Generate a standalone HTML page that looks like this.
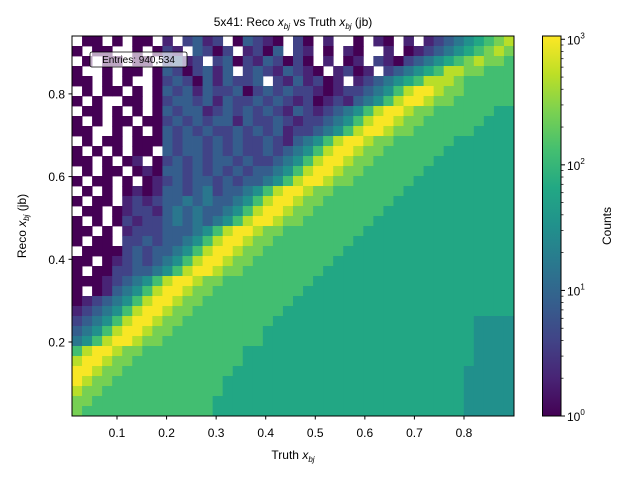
<!DOCTYPE html>
<html>
<head>
<meta charset="utf-8">
<style>
  html, body { margin: 0; padding: 0; background: #ffffff; }
  svg { display: block; font-family: "Liberation Sans", "DejaVu Sans", sans-serif; }
</style>
</head>
<body>
<svg id="chart" width="640" height="480" viewBox="0 0 640 480" xmlns="http://www.w3.org/2000/svg">
  <rect x="0" y="0" width="640" height="480" fill="#ffffff"/>
  <text x="293" y="26" text-anchor="middle" font-size="12" fill="#000">5x41: Reco <tspan font-style="italic">x</tspan><tspan font-style="italic" font-size="8" dy="3">bj</tspan><tspan dy="-3"> vs Truth </tspan><tspan font-style="italic">x</tspan><tspan font-style="italic" font-size="8" dy="3">bj</tspan><tspan dy="-3"> (jb)</tspan></text>
  <g id="cells"></g>
  <rect x="72" y="36" width="442" height="380" fill="none" stroke="#000" stroke-width="1"/>
  <g id="xticks"></g>
  <g id="yticks"></g>
  <text x="293" y="459" text-anchor="middle" font-size="12" fill="#000">Truth <tspan font-style="italic">x</tspan><tspan font-style="italic" font-size="8" dy="3">bj</tspan></text>
  <text transform="translate(26,226) rotate(-90)" text-anchor="middle" font-size="12" fill="#000">Reco <tspan font-style="italic">x</tspan><tspan font-style="italic" font-size="8" dy="3">bj</tspan><tspan dy="-3"> (jb)</tspan></text>
  <g>
    <rect x="90" y="52" width="97" height="15" rx="2" fill="#ffffff" fill-opacity="0.65" stroke="#000" stroke-width="0.8"/>
    <text x="138.5" y="63" text-anchor="middle" font-size="10" fill="#000">Entries: 940,534</text>
  </g>
  <defs>
    <linearGradient id="vgrad" x1="0" y1="1" x2="0" y2="0"></linearGradient>
  </defs>
  <rect x="542.5" y="36" width="18.5" height="380" fill="url(#vgrad)" stroke="#000" stroke-width="1"/>
  <g id="cbticks"></g>
  <text transform="translate(611,226) rotate(-90)" text-anchor="middle" font-size="12" fill="#000">Counts</text>
</svg>
<script>
// ---- data: log10(counts) level codes per row (top row first), 44 truth-x bins x 38 reco-x bins
var levelLog = [0, 0.3, 0.6, 0.9, 1.2, 1.5, 1.8, 2.1, 2.4, 2.7, 3.0];
var rowCodes = [
  ".00.0.00." + "1.2312.03210.2" + "0.1..0.10.1.12" + "3456789",
  "0.00..0.0" + "21.3202.1203.2" + "1.0.10..1.012" + "34567898",
  ".0.00.00." + "2312.230213202" + "0.1.01.2102" + "3456789887",
  "0..0.00.0" + "3202313.232132" + "10.1201.2" + "345679988777",
  "00.0.0..0" + "2320313223.213" + "1201.12" + "34567999877777",
  ".0.00.0.0" + "32313223023232" + "210122" + "34579AA98877777",
  "0.0..00.0" + "23323132232321" + "20121" + "34579AA988777777",
  ".00.0.0.0" + "32331232323213" + "212" + "34579AA98877777766",
  "0.0.00.00" + "23232331322321" + "22" + "34579AA988777777666",
  "00..0.0.0" + "32323223232312" + "2" + "34579AA9887777776666",
  ".0.00.000" + "3233232322321" + "34579AA988777777666666",
  "0.0.0.00." + "323323232232" + "34579AA9887777776666666",
  "00.0.01.0" + "23232332322" + "34579AA98877777766666666",
  ".0.00.010" + "3323232323" + "34579AA988777777666666666",
  "0.00.0.01" + "232332323" + "34579AA9887777776666666666",
  ".0.0.0101" + "3323423" + "34579AA988777777766666666666",
  "0.00.1212" + "334343" + "34579AA9887777777666666666666",
  ".00.01221" + "34343" + "34579AA98877777776666666666666",
  "0.0.02122" + "3434" + "34579AA988777777766666666666666",
  "00.0.1222" + "33" + "34579AA98877777777666666666666666",
  "0.00.2232" + "3" + "34579AA988777777776666666666666666",
  ".00002323" + "34579AA9887777777766666666666666666",
  "00.01232" + "34579AA98877777777666666666666666666",
  "0.00223" + "34579AA988777777776666666666666666666",
  "00012" + "34579AA98877777777766666666666666666666",
  "0.01" + "34579AA988777777777666666666666666666666",
  "012" + "34579AA9887777777776666666666666666666666",
  "12" + "34579AA98877777777766666666666666666666666",
  "2" + "34579AA988777" + "777777" + "6666666666" + "6666666666" + "5555",
  "34579AA988777" + "777777" + "6666666666" + "6666666666" + "6" + "5555",
  "4579AA988777" + "7777777" + "6666666666" + "6666666666" + "6" + "5555",
  "79AA988777" + "7777777" + "6666666666" + "6666666666" + "666" + "5555",
  "9AA988777" + "77777777" + "6666666666" + "6666666666" + "666" + "5555",
  "AA988777" + "77777777" + "6666666666" + "6666666666" + "666" + "55555",
  "A988777" + "77777777" + "6666666666" + "6666666666" + "6666" + "55555",
  "988777" + "777777777" + "6666666666" + "6666666666" + "6666" + "55555",
  "88777" + "777777777" + "6666666666" + "6666666666" + "66666" + "55555",
  "8777" + "7777777777" + "6666666666" + "6666666666" + "66666" + "55555"
];
var xTickValues = [0.1, 0.2, 0.3, 0.4, 0.5, 0.6, 0.7, 0.8];
var xTickLabels = ["0.1", "0.2", "0.3", "0.4", "0.5", "0.6", "0.7", "0.8"];
var yTickValues = [0.2, 0.4, 0.6, 0.8];
var yTickLabels = ["0.2", "0.4", "0.6", "0.8"];
var cbTickExps = [0, 1, 2, 3];
var xDomain = [0.0092, 0.9009];
var yDomain = [0.021, 0.940];
var logMax = 3.026;

// ---- axis functions
var PX0 = 72, PX1 = 514, PY0 = 416, PY1 = 36;
function xScale(v) { return PX0 + (v - xDomain[0]) / (xDomain[1] - xDomain[0]) * (PX1 - PX0); }
function yScale(v) { return PY0 - (v - yDomain[0]) / (yDomain[1] - yDomain[0]) * (PY0 - PY1); }
function cbScale(l) { return 416 - l / logMax * 380; }

var stops = ["#440154","#482475","#414487","#355f8d","#2a788e","#21918c","#22a884","#44bf70","#7ad151","#bddf26","#fde725"];
function hex(h) { return [parseInt(h.substr(1,2),16), parseInt(h.substr(3,2),16), parseInt(h.substr(5,2),16)]; }
function viridis(t) {
  t = Math.max(0, Math.min(1, t));
  var p = t * 10, i = Math.min(9, Math.floor(p)), f = p - i;
  var a = hex(stops[i]), b = hex(stops[i+1]);
  return "rgb(" + Math.round(a[0]+(b[0]-a[0])*f) + "," + Math.round(a[1]+(b[1]-a[1])*f) + "," + Math.round(a[2]+(b[2]-a[2])*f) + ")";
}

var NS = "http://www.w3.org/2000/svg";
var nCols = 44, nRows = rowCodes.length;
var cells = document.getElementById("cells");
var bw = (xDomain[1] - xDomain[0]) / nCols, bh = (yDomain[1] - yDomain[0]) / nRows;
for (var r = 0; r < nRows; r++) {
  var s = rowCodes[r];
  var yTop = yDomain[1] - r * bh, yBot = yTop - bh;
  for (var c = 0; c < nCols; c++) {
    var ch = c < s.length ? s.charAt(c) : s.charAt(s.length - 1);
    if (ch === ".") continue;
    var lvl = ch === "A" ? levelLog[10] : levelLog[parseInt(ch, 10)];
    var x0 = xScale(xDomain[0] + c * bw), x1 = xScale(xDomain[0] + (c + 1) * bw);
    var rect = document.createElementNS(NS, "rect");
    rect.setAttribute("x", x0.toFixed(2));
    rect.setAttribute("y", yScale(yTop).toFixed(2));
    rect.setAttribute("width", (x1 - x0 + 0.4).toFixed(2));
    rect.setAttribute("height", (yScale(yBot) - yScale(yTop) + 0.4).toFixed(2));
    rect.setAttribute("fill", viridis(lvl / logMax));
    
    
    cells.appendChild(rect);
  }
}

var xt = document.getElementById("xticks");
xTickValues.forEach(function (v, i) {
  var x = xScale(v);
  var ln = document.createElementNS(NS, "line");
  ln.setAttribute("x1", x); ln.setAttribute("x2", x); ln.setAttribute("y1", 416); ln.setAttribute("y2", 419.5);
  ln.setAttribute("stroke", "#000");
  
  
  xt.appendChild(ln);
  var t = document.createElementNS(NS, "text");
  t.setAttribute("x", x); t.setAttribute("y", 437); t.setAttribute("text-anchor", "middle"); t.setAttribute("font-size", "12");
  t.textContent = xTickLabels[i];
  
  
  xt.appendChild(t);
});
var yt = document.getElementById("yticks");
yTickValues.forEach(function (v, i) {
  var y = yScale(v);
  var ln = document.createElementNS(NS, "line");
  ln.setAttribute("x1", 68.5); ln.setAttribute("x2", 72); ln.setAttribute("y1", y); ln.setAttribute("y2", y);
  ln.setAttribute("stroke", "#000");
  
  
  yt.appendChild(ln);
  var t = document.createElementNS(NS, "text");
  t.setAttribute("x", 65); t.setAttribute("y", y + 4.5); t.setAttribute("text-anchor", "end"); t.setAttribute("font-size", "12");
  t.textContent = yTickLabels[i];
  
  
  yt.appendChild(t);
});

var grad = document.getElementById("vgrad");
for (var k = 0; k <= 10; k++) {
  var st = document.createElementNS(NS, "stop");
  st.setAttribute("offset", (k / 10).toString());
  st.setAttribute("stop-color", stops[k]);
  grad.appendChild(st);
}
var cbt = document.getElementById("cbticks");
cbTickExps.forEach(function (e) {
  var y = cbScale(e);
  var ln = document.createElementNS(NS, "line");
  ln.setAttribute("x1", 561); ln.setAttribute("x2", 565); ln.setAttribute("y1", y); ln.setAttribute("y2", y);
  ln.setAttribute("stroke", "#000");
  
  
  cbt.appendChild(ln);
  var t = document.createElementNS(NS, "text");
  t.setAttribute("x", 567); t.setAttribute("y", y + 5); t.setAttribute("font-size", "12");
  t.textContent = "10";
  var sup = document.createElementNS(NS, "tspan");
  sup.setAttribute("dy", "-6"); sup.setAttribute("font-size", "8");
  sup.textContent = String(e);
  t.appendChild(sup);
  
  
  cbt.appendChild(t);
});
for (var d = 0; d < 3; d++) {
  for (var m = 2; m <= 9; m++) {
    var ly = cbScale(d + Math.log10(m));
    var mn = document.createElementNS(NS, "line");
    mn.setAttribute("x1", 561); mn.setAttribute("x2", 563.5); mn.setAttribute("y1", ly); mn.setAttribute("y2", ly);
    mn.setAttribute("stroke", "#000"); mn.setAttribute("stroke-width", "0.7");
    
    
    cbt.appendChild(mn);
  }
}
</script>
</body>
</html>
